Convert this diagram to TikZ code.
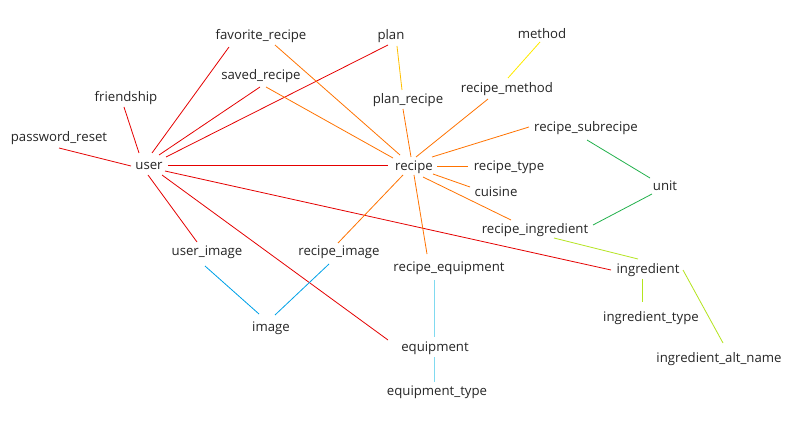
\documentclass[tikz,border=0pt]{standalone}
\usepackage{fontspec}
\setmainfont{Open Sans}
% \link{style}{from node}{dx,dy}{to node}{dx,dy}: connector between offset points of two nodes
\newcommand{\link}[5]{\draw[#1] ([shift={(#3)}]#2.center) -- ([shift={(#5)}]#4.center);}
\begin{document}
\begin{tikzpicture}[x=1pt,y=-1pt,
  tbl/.style={font=\fontsize{13.2}{15}\selectfont, text=black!85, inner sep=0pt,
              text height=11pt, text depth=1pt},
  lred/.style={draw=red!90!black, line width=0.8pt},
  lorange/.style={draw=orange!90!red, line width=0.8pt},
  lgold/.style={draw={rgb,255:red,255;green,192;blue,0}, line width=0.8pt},
  lyellow/.style={draw={rgb,255:red,255;green,235;blue,0}, line width=0.8pt},
  lgreen/.style={draw={rgb,255:red,34;green,177;blue,76}, line width=0.8pt},
  llime/.style={draw={rgb,255:red,180;green,228;blue,30}, line width=0.8pt},
  lblue/.style={draw={rgb,255:red,0;green,162;blue,232}, line width=0.8pt},
  lsky/.style={draw={rgb,255:red,128;green,218;blue,240}, line width=0.8pt}]
\useasboundingbox[fill=white] (0,0) rectangle (793,422);

% tables
\node[tbl] (pwreset)   at (59,137)  {password\_reset};
\node[tbl] (friend)    at (126,97)  {friendship};
\node[tbl] (favrecipe) at (261,35)  {favorite\_recipe};
\node[tbl] (saved)     at (261,75)  {saved\_recipe};
\node[tbl] (plan)      at (391,35)  {plan};
\node[tbl] (planrec)   at (408,99)  {plan\_recipe};
\node[tbl] (method)    at (542,34)  {method};
\node[tbl] (recmethod) at (507,88)  {recipe\_method};
\node[tbl] (subrec)    at (586,127) {recipe\_subrecipe};
\node[tbl] (user)      at (149,165) {user};
\node[tbl] (recipe)    at (414,166) {recipe};
\node[tbl] (rectype)   at (509,166) {recipe\_type};
\node[tbl] (cuisine)   at (496,192) {cuisine};
\node[tbl] (unit)      at (665,186) {unit};
\node[tbl] (recing)    at (535,229) {recipe\_ingredient};
\node[tbl] (userimg)   at (207,251) {user\_image};
\node[tbl] (recimg)    at (339,251) {recipe\_image};
\node[tbl] (recequip)  at (449,267) {recipe\_equipment};
\node[tbl] (ing)       at (648,269) {ingredient};
\node[tbl] (image)     at (271,326) {image};
\node[tbl] (ingtype)   at (651,317) {ingredient\_type};
\node[tbl] (equip)     at (435,346) {equipment};
\node[tbl] (ingalt)    at (719,357) {ingredient\_alt\_name};
\node[tbl] (equiptype) at (437,390) {equipment\_type};

% user relations
\link{lred}{user}{-18,1}{pwreset}{0,11}
\link{lred}{user}{-10,-12}{friend}{-2,10}
\link{lred}{user}{3,-12}{favrecipe}{-32,12}
\link{lred}{user}{10,-10}{saved}{-1,12}
\link{lred}{user}{17,-8}{plan}{-3,10}
\link{lred}{user}{19,0}{recipe}{-26,-1}
\link{lred}{user}{-1,10}{userimg}{-10,-9}
\link{lred}{user}{13,10}{equip}{-47,-6}
\link{lred}{user}{16,6}{ing}{-37,1}

% recipe relations
\link{lorange}{recipe}{-14,-11}{favrecipe}{14,10}
\link{lorange}{recipe}{-21,-8}{saved}{5,12}
\link{lorange}{recipe}{-3,-9}{planrec}{-5,10}
\link{lorange}{recipe}{2,-9}{recmethod}{-19,11}
\link{lorange}{recipe}{18,-9}{subrec}{-57,0}
\link{lorange}{recipe}{23,0}{rectype}{-41,0}
\link{lorange}{recipe}{19,8}{cuisine}{-26,-5}
\link{lorange}{recipe}{9,11}{recing}{-24,-9}
\link{lorange}{recipe}{-11,9}{recimg}{-1,-8}
\link{lorange}{recipe}{0,9}{recequip}{-22,-13}

% remaining relations
\link{lgold}{plan}{6,11}{planrec}{-6,-9}
\link{lyellow}{method}{-2,8}{recmethod}{1,-10}
\link{lgreen}{subrec}{1,13}{unit}{-15,-8}
\link{lgreen}{unit}{-13,8}{recing}{58,-4}
\link{llime}{recing}{19,9}{ing}{-10,-10}
\link{llime}{ing}{-6,10}{ingtype}{-9,-15}
\link{llime}{ing}{35,1}{ingalt}{4,-14}
\link{lblue}{userimg}{-2,15}{image}{-12,-12}
\link{lblue}{recimg}{-10,13}{image}{4,-11}
\link{lsky}{recequip}{-15,13}{equip}{-1,-9}
\link{lsky}{equip}{-1,11}{equiptype}{-3,-8}
\end{tikzpicture}
\end{document}
